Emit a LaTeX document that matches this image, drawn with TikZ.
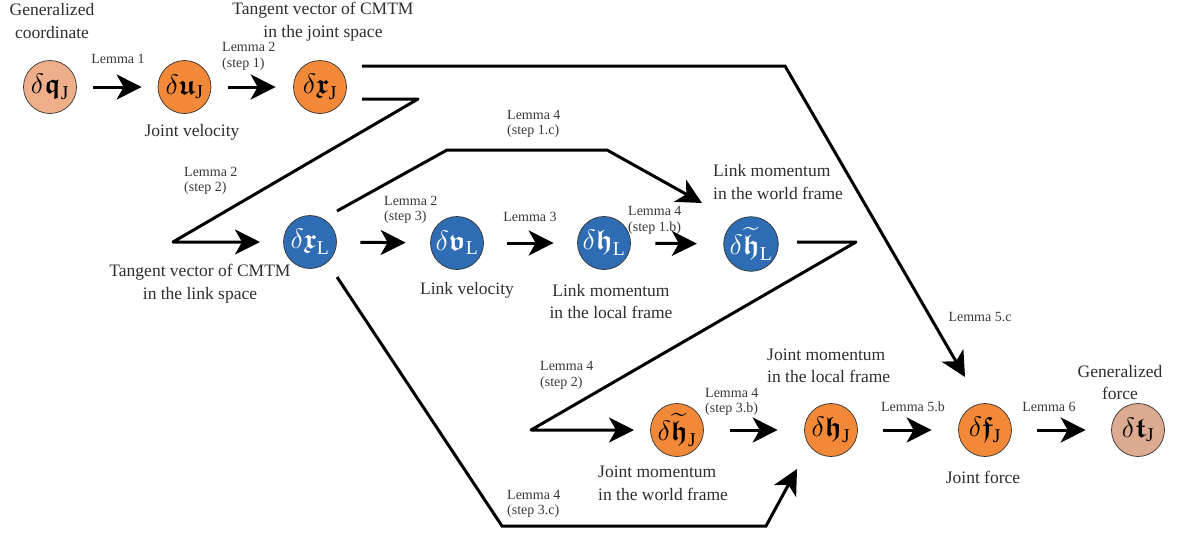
\documentclass[tikz,border=0pt]{standalone}
\usepackage{fix-cm}
\usepackage{amsmath,amssymb}
\usepackage{fontspec}
\setmainfont{Liberation Serif}
\usetikzlibrary{arrows.meta,calc}
\definecolor{cq}{HTML}{EEAE8A}
\definecolor{corg}{HTML}{F28938}
\definecolor{cblue}{HTML}{2E6DB4}
\definecolor{ct}{HTML}{DCAA91}
\definecolor{txtg}{HTML}{2E2E2E}
\definecolor{lemg}{HTML}{383838}
\newcommand{\fk}[1]{\boldsymbol{\mathfrak{#1}}}
\begin{document}
\begin{tikzpicture}[x=1pt,y=-1pt,
  circ/.style={circle, draw=black!80, line width=0.7pt, minimum size=53pt, inner sep=0pt, font=\fontsize{28}{32}\selectfont},
  orgc/.style={circ, fill=corg},
  bluec/.style={circ, fill=cblue, text=white},
  lbl/.style={text=txtg, font=\fontsize{17.5}{22.5}\selectfont, align=center, inner sep=0pt},
  lem/.style={text=lemg, font=\fontsize{14}{15.5}\selectfont, align=left, inner sep=0pt},
  arr/.style={line width=3pt, -{Stealth[length=25pt,width=25pt,inset=7pt]}}]
\useasboundingbox (0,0) rectangle (1178,536);
% nodes
\node[circ, fill=cq] (qJ) at (50,87) {$\delta\fk{q}_{\mathrm{J}}$};
\node[orgc] (uJ) at (184.5,87) {$\delta\fk{u}_{\mathrm{J}}$};
\node[orgc] (xJ) at (320,87) {$\delta\fk{x}_{\mathrm{J}}$};
\node[bluec] (xL) at (310,242) {$\delta\fk{x}_{\mathrm{L}}$};
\node[bluec] (vL) at (457,243) {$\delta\fk{v}_{\mathrm{L}}$};
\node[bluec] (hL) at (604,243) {$\delta\fk{h}_{\mathrm{L}}$};
\node[bluec] (thL) at (751,244) {$\delta\widetilde{\fk{h}}_{\mathrm{L}}$};
\node[orgc] (thJ) at (677,430) {$\delta\widetilde{\fk{h}}_{\mathrm{J}}$};
\node[orgc] (hJ) at (831,430) {$\delta\fk{h}_{\mathrm{J}}$};
\node[orgc] (fJ) at (985,430) {$\delta\fk{f}_{\mathrm{J}}$};
\node[circ, fill=ct] (tJ) at (1138,430) {$\delta\fk{t}_{\mathrm{J}}$};
% straight arrows
\draw[arr, shorten <=16.5pt, shorten >=16pt] (qJ) -- (uJ);
\draw[arr, shorten <=17pt, shorten >=17.5pt] (uJ) -- (xJ);
\draw[arr, shorten <=23.5pt, shorten >=24.5pt] (xL) -- (vL);
\draw[arr, shorten <=23.5pt, shorten >=23.5pt] (vL) -- (hL);
\draw[arr, shorten <=24.5pt, shorten >=26.5pt] (hL) -- (thL);
\draw[arr, shorten <=26.5pt, shorten >=26.5pt] (thJ) -- (hJ);
\draw[arr, shorten <=25.5pt, shorten >=26.5pt] (hJ) -- (fJ);
\draw[arr, shorten <=25.5pt, shorten >=25.5pt] (fJ) -- (tJ);
% polylines
\draw[arr, line join=miter] ($(xJ)+(42,-21)$) -- (785,66) -- ($(fJ)+(-20,-53)$);
\draw[arr, line join=round] ($(xJ)+(42,12)$) -- (418,99) -- (173,242) -- ($(xL)+(-50,0)$);
\draw[arr, line join=miter] ($(xL)+(27,-31)$) -- (447,150) -- (607,150) -- ($(thL)+(-49,-41)$);
\draw[arr, line join=miter] ($(xL)+(27,35)$) -- (502,526) -- (766,526) -- ($(hJ)+(-34,39)$);
\draw[arr, line join=round] ($(thL)+(46,-2)$) -- (856,242) -- (531,430) -- ($(thJ)+(-43,0)$);
% lemma labels
\node[lem] (m1) at (118,59) {Lemma 1};
\node[lem, anchor=west] (m2) at (222,56.5) {Lemma 2\\(step 1)};
\node[lem, anchor=west] (m3) at (184,181) {Lemma 2\\(step 2)};
\node[lem, anchor=west] (m4) at (384,210) {Lemma 2\\(step 3)};
\node[lem] (m5) at (530,217) {Lemma 3};
\node[lem, anchor=west] (m6) at (628,220.5) {Lemma 4\\(step 1.b)};
\node[lem, anchor=west] (m7) at (507,124) {Lemma 4\\(step 1.c)};
\node[lem, anchor=west] (m8) at (540,375.5) {Lemma 4\\(step 2)};
\node[lem, anchor=west] (m9) at (705,402) {Lemma 4\\(step 3.b)};
\node[lem, anchor=west] (m10) at (507,504) {Lemma 4\\(step 3.c)};
\node[lem] (m11) at (913,407) {Lemma 5.b};
\node[lem] (m12) at (980,317) {Lemma 5.c};
\node[lem] (m13) at (1049,407) {Lemma 6};
% descriptive labels
\node[lbl] (d1) at (52,21) {Generalized\\coordinate};
\node[lbl] (d2) at (323,21.5) {Tangent vector of CMTM\\in the joint space};
\node[lbl] (d3) at (192,132) {Joint velocity};
\node[lbl] (d4) at (200,283.5) {Tangent vector of CMTM\\in the link space};
\node[lbl] (d5) at (467,290) {Link velocity};
\node[lbl] (d6) at (611,301.5) {Link momentum\\in the local frame};
\node[lbl, align=left, anchor=west] (d7) at (713,182) {Link momentum\\in the world frame};
\node[lbl, align=left, anchor=west] (d8) at (767,366) {Joint momentum\\in the local frame};
\node[lbl, align=left, anchor=west] (d9) at (598,483.5) {Joint momentum\\in the world frame};
\node[lbl] (d10) at (983,477) {Joint force};
\node[lbl] (d11) at (1120,382.5) {Generalized\\force};
\end{tikzpicture}
\end{document}
